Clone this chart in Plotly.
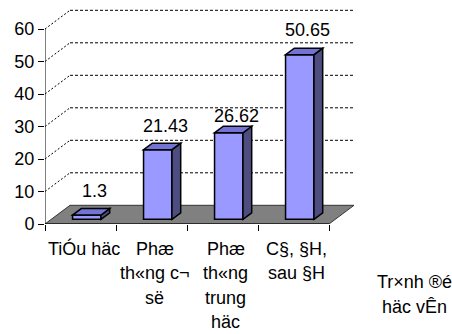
import plotly.graph_objects as go

# Education level categories (TCVN3-encoded Vietnamese, shown as rendered)
categories = ["TiÓu häc", "Phæ th«ng c¬ së", "Phæ th«ng trung häc", "C§, §H, sau §H"]
tick_labels = ["TiÓu häc", "Phæ<br>th«ng c¬<br>së", "Phæ<br>th«ng<br>trung<br>häc", "C§, §H,<br>sau §H"]
values = [1.3, 21.43, 26.62, 50.65]
value_labels = ["1.3", "21.43", "26.62", "50.65"]
y_ticks = [0, 10, 20, 30, 40, 50, 60]
axis_title = ["Tr×nh ®é", "häc vÊn"]

FONT = "Liberation Sans, Arial, sans-serif"
FS = 18

# pseudo-3D geometry (in axis units)
PX_X = 71.0          # pixels per category
PX_Y = 3.25          # pixels per value unit
DEPTH_X = 25 / PX_X  # full depth offset of the back wall
DEPTH_Y = 18.7 / PX_Y
F0, F1 = 0.25, 0.60  # bar front / back depth fractions
BAR_W = 0.40
x_lo, x_hi = -0.5, len(categories) - 0.5

front_color = "#9999FF"
top_color = "#7373D6"
side_color = "#4D4D80"
floor_color = "#808080"

W, H = 452, 334
L, R, T, B = 45, 98, 5, 110

shapes = []

def path(pts):
    return "M " + " L ".join(f"{x:.4f},{y:.4f}" for x, y in pts) + " Z"

# back-wall gridlines and left-wall diagonals
for t in y_ticks[1:]:
    shapes.append(dict(type="line", xref="x", yref="y", layer="below",
                       x0=x_lo + DEPTH_X, x1=x_hi + DEPTH_X,
                       y0=t + DEPTH_Y, y1=t + DEPTH_Y,
                       line=dict(color="black", width=1, dash="3px,2px")))
    shapes.append(dict(type="line", xref="x", yref="y", layer="below",
                       x0=x_lo, x1=x_lo + DEPTH_X, y0=t, y1=t + DEPTH_Y,
                       line=dict(color="black", width=1, dash="2px,2px")))

# floor
shapes.append(dict(type="path", xref="x", yref="y", layer="below",
                   path=path([(x_lo, 0), (x_hi, 0), (x_hi + DEPTH_X, DEPTH_Y),
                              (x_lo + DEPTH_X, DEPTH_Y)]),
                   fillcolor=floor_color, line=dict(color="#333333", width=1)))

# axis lines
shapes.append(dict(type="line", xref="x", yref="y", x0=x_lo, x1=x_lo, y0=0, y1=y_ticks[-1],
                   line=dict(color="black", width=1)))
shapes.append(dict(type="line", xref="x", yref="y", x0=x_lo, x1=x_hi, y0=0, y1=0,
                   line=dict(color="black", width=1)))

# bar front faces as a real bar trace; top and side faces as shapes
base = F0 * DEPTH_Y
shift_x = F0 * DEPTH_X
ddx = (F1 - F0) * DEPTH_X
ddy = (F1 - F0) * DEPTH_Y
bar_x = [i + shift_x for i in range(len(categories))]

for xc, v in zip(bar_x, values):
    xl, xr = xc - BAR_W / 2, xc + BAR_W / 2
    top = base + v
    shapes.append(dict(type="path", xref="x", yref="y", layer="above",
                       path=path([(xr, base), (xr + ddx, base + ddy),
                                  (xr + ddx, top + ddy), (xr, top)]),
                       fillcolor=side_color, line=dict(color="black", width=1.5)))
    shapes.append(dict(type="path", xref="x", yref="y", layer="above",
                       path=path([(xl, top), (xr, top), (xr + ddx, top + ddy),
                                  (xl + ddx, top + ddy)]),
                       fillcolor=top_color, line=dict(color="black", width=1.5)))

fig = go.Figure(go.Bar(
    x=bar_x, y=values, base=[base] * len(values), width=BAR_W,
    marker=dict(color=front_color, line=dict(color="black", width=1.5)),
    hoverinfo="skip",
))

annotations = []
label_lift = [24, 24, 17, 25]
for xc, v, txt, lift in zip(bar_x, values, value_labels, label_lift):
    annotations.append(dict(x=xc + 0.11, y=base + v, xref="x", yref="y", text=txt,
                            showarrow=False, yshift=lift, yanchor="middle",
                            font=dict(family=FONT, size=FS, color="black")))

for i, lab in enumerate(tick_labels):
    for j, line in enumerate(lab.split("<br>")):
        annotations.append(dict(x=i, y=0, xref="x", yref="y", text=line,
                                showarrow=False, yanchor="middle", xshift=3,
                                yshift=-(24.5 + 24.5 * j),
                                font=dict(family=FONT, size=FS, color="black")))

# axis title to the right of the floor, in paper coordinates
plot_w, plot_h = W - L - R, H - T - B
for j, line in enumerate(axis_title):
    annotations.append(dict(x=(414 - L) / plot_w, y=-(282 + 25 * j - (H - B)) / plot_h,
                            xref="paper", yref="paper", text=line,
                            showarrow=False, xanchor="center", yanchor="middle",
                            font=dict(family=FONT, size=FS, color="black")))

x_range = [x_lo, x_lo + plot_w / PX_X]
y_range = [0, plot_h / PX_Y]

fig.update_layout(
    width=W, height=H, margin=dict(l=L, r=R, t=T, b=B),
    paper_bgcolor="white", plot_bgcolor="white", showlegend=False,
    shapes=shapes, annotations=annotations,
    font=dict(family=FONT, size=FS, color="black"),
    xaxis=dict(range=x_range, showgrid=False, zeroline=False, showline=False,
               tickvals=[x_lo + k for k in range(len(categories) + 1)],
               ticktext=[""] * (len(categories) + 1),
               ticks="outside", ticklen=6, tickcolor="black", tickwidth=1),
    yaxis=dict(range=y_range, showgrid=False, zeroline=False, showline=False,
               tickvals=y_ticks, ticks="outside", ticklen=6, tickcolor="black",
               tickwidth=1, tickfont=dict(family=FONT, size=FS, color="black")),
)

fig.write_html("out.html")
